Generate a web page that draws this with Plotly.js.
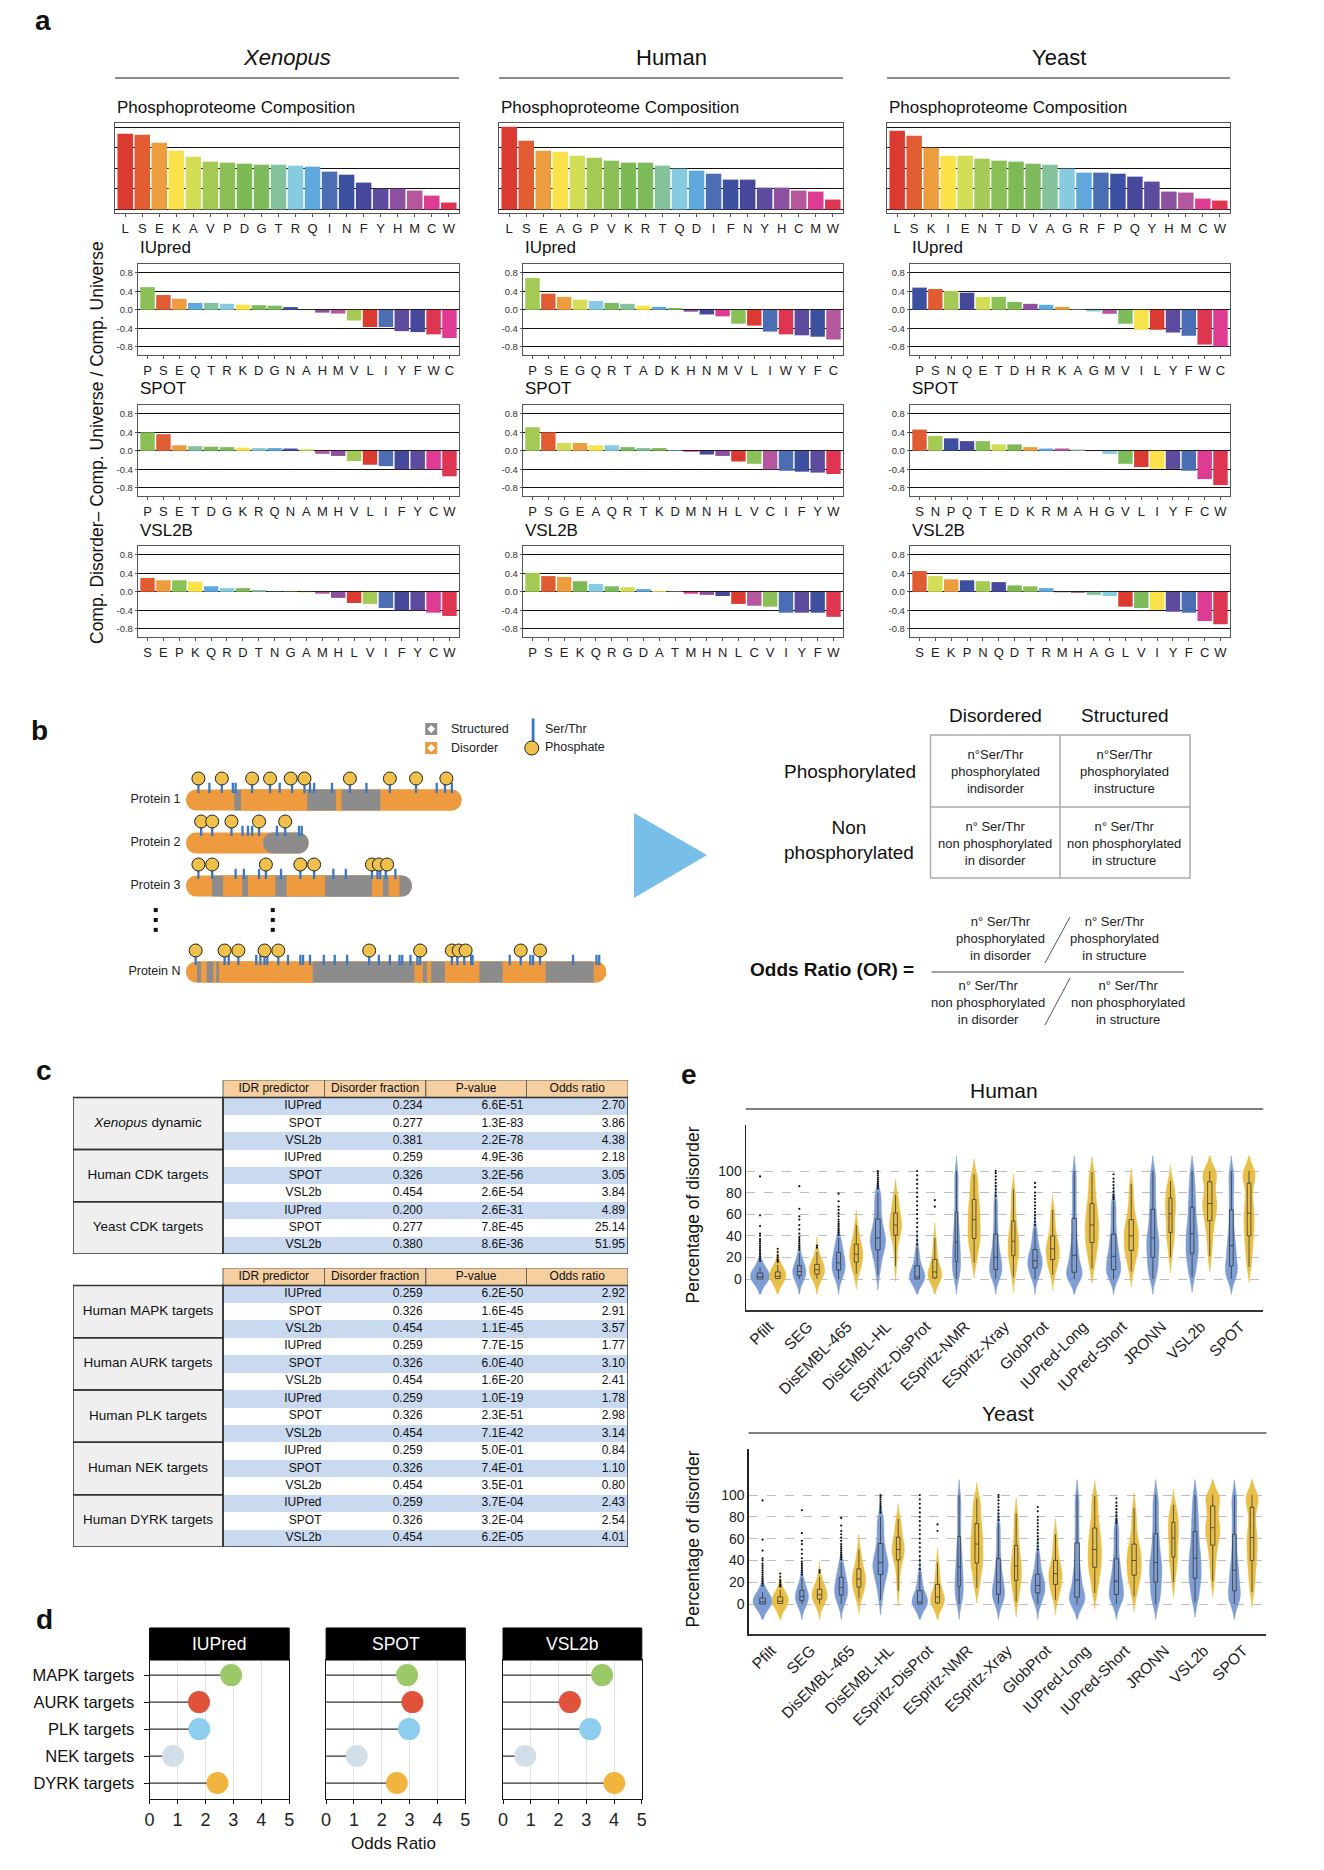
<!DOCTYPE html>
<html>
<head>
<meta charset="utf-8">
<script src="https://cdn.plot.ly/plotly-3.0.1.min.js"></script>
<style>
html,body{margin:0;padding:0;background:#ffffff;}
#chart{width:1324px;height:1870px;}
</style>
</head>
<body>
<div id="chart"></div>
<script>
// ================= DATA =================
// ---- Panel a : composition (values in %) and disorder enrichment ----
const xenCompAA = ['L','S','E','K','A','V','P','D','G','T','R','Q','I','N','F','Y','H','M','C','W'];
const xenCompVal = [9.19,9.07,8.10,7.14,6.41,5.81,5.69,5.56,5.44,5.44,5.32,5.20,4.60,4.23,3.27,2.54,2.54,2.30,1.69,0.85];
const xenIupredAA = ['P','S','E','Q','T','R','K','D','G','N','A','H','M','V','L','I','Y','F','W','C'];
const xenIupredVal = [0.49,0.32,0.24,0.15,0.15,0.13,0.11,0.10,0.09,0.06,-0.01,-0.06,-0.08,-0.23,-0.37,-0.37,-0.46,-0.48,-0.53,-0.61];
const xenSpotAA = ['P','S','E','T','D','G','K','R','Q','N','A','M','H','V','L','I','F','Y','C','W'];
const xenSpotVal = [0.40,0.36,0.12,0.10,0.09,0.08,0.07,0.06,0.06,0.05,0.035,-0.065,-0.11,-0.22,-0.30,-0.33,-0.40,-0.40,-0.40,-0.55];
const xenVslAA = ['S','E','P','K','Q','R','D','T','N','G','A','M','H','L','V','I','F','Y','C','W'];
const xenVslVal = [0.30,0.25,0.25,0.22,0.12,0.08,0.08,0.04,0.015,0.01,-0.01,-0.04,-0.13,-0.24,-0.26,-0.35,-0.40,-0.40,-0.45,-0.52];

const humCompAA = ['L','S','E','A','G','P','V','K','R','T','Q','D','I','F','N','Y','H','C','M','W'];
const humCompVal = [10.04,8.35,7.14,7.02,6.53,6.29,5.93,5.69,5.69,5.32,4.96,4.72,4.35,3.63,3.63,2.66,2.66,2.30,2.18,1.21];
const humIupredAA = ['P','S','E','G','Q','R','T','A','D','K','H','N','M','V','L','I','W','Y','F','C'];
const humIupredVal = [0.69,0.35,0.28,0.22,0.19,0.15,0.13,0.09,0.065,0.04,-0.04,-0.10,-0.14,-0.30,-0.34,-0.47,-0.53,-0.55,-0.58,-0.64];
const humSpotAA = ['P','S','G','E','A','Q','R','T','K','D','M','N','H','L','V','C','I','F','Y','W'];
const humSpotVal = [0.51,0.40,0.17,0.17,0.12,0.12,0.08,0.06,0.06,0.015,-0.02,-0.08,-0.11,-0.23,-0.28,-0.40,-0.43,-0.45,-0.47,-0.50];
const humVslAA = ['P','S','E','K','Q','R','G','D','A','T','M','H','N','L','C','V','I','Y','F','W'];
const humVslVal = [0.41,0.34,0.32,0.23,0.17,0.12,0.10,0.06,0.02,0.01,-0.04,-0.065,-0.09,-0.26,-0.30,-0.32,-0.45,-0.45,-0.45,-0.54];

const yeaCompAA = ['L','S','K','I','E','N','T','D','V','A','G','R','F','P','Q','Y','H','M','C','W'];
const yeaCompVal = [9.56,8.95,7.50,6.53,6.53,6.17,5.93,5.81,5.56,5.44,4.96,4.48,4.48,4.35,3.99,3.39,2.18,2.06,1.33,1.09];
const yeaIupredAA = ['P','S','N','Q','E','T','D','H','R','K','A','G','M','V','I','L','Y','F','W','C'];
const yeaIupredVal = [0.48,0.45,0.41,0.37,0.28,0.28,0.17,0.13,0.11,0.065,0.01,-0.035,-0.085,-0.30,-0.43,-0.43,-0.49,-0.56,-0.75,-0.79];
const yeaSpotAA = ['S','N','P','Q','T','E','D','K','R','M','A','H','G','V','L','I','Y','F','C','W'];
const yeaSpotVal = [0.46,0.32,0.27,0.21,0.21,0.14,0.14,0.08,0.05,0.05,0.03,-0.005,-0.065,-0.28,-0.35,-0.39,-0.39,-0.43,-0.61,-0.74];
const yeaVslAA = ['S','E','K','P','N','Q','D','T','R','M','H','A','G','L','V','I','Y','F','C','W'];
const yeaVslVal = [0.45,0.34,0.27,0.25,0.23,0.21,0.14,0.12,0.08,-0.01,-0.02,-0.065,-0.09,-0.32,-0.35,-0.39,-0.43,-0.45,-0.63,-0.70];

// ---- Panel b : schematic proteins (residue positions) ----
const proteinNames = ['Protein 1','Protein 2','Protein 3','Protein N'];
const protein1Bounds = [0,35,40,88,109,113,141,200];
const protein2Bounds = [0,56,89];
const protein3Bounds = [0,19,27,41,45,65,73,101,135,143,147,155,164];
const proteinNBounds = [0,8,11,15,20,22,24,92,166,172,175,178,188,213,230,261,296,305];
const protein1SerThr = [9,17,26,34,36,48,61,68,77,86,90,93,106,119,131,148,167,182,188,193];
const protein1Phospho = [9,26,48,61,76,86,119,148,167,189];
const protein2SerThr = [11,19,33,41,45,48,53,66,72,82,84];
const protein2Phospho = [11,19,33,53,72];
const protein3SerThr = [9,19,36,42,53,58,69,83,93,107,116,135,139,141,145,152];
const protein3Phospho = [9,19,58,83,93,135,140,146];
const proteinNSerThr = [7,28,31,38,51,54,57,59,67,74,83,85,90,100,108,117,133,140,148,155,157,163,168,170,193,197,202,207,208,235,243,250,252,257,281,298,300];
const proteinNPhospho = [7,28,38,57,67,133,170,193,198,203,243,257];

// ---- Panel c : tables ----
const tableHeader = ['IDR predictor','Disorder fraction','P-value','Odds ratio'];
const idrPredictors = ['IUPred','SPOT','VSL2b'];
const groups1 = ['<i>Xenopus</i> dynamic','Human CDK targets','Yeast CDK targets'];
const fraction1 = [0.234,0.277,0.381,0.259,0.326,0.454,0.200,0.277,0.380];
const pvalue1 = ['6.6E-51','1.3E-83','2.2E-78','4.9E-36','3.2E-56','2.6E-54','2.6E-31','7.8E-45','8.6E-36'];
const odds1 = [2.70,3.86,4.38,2.18,3.05,3.84,4.89,25.14,51.95];
const groups2 = ['Human MAPK targets','Human AURK targets','Human PLK targets','Human NEK targets','Human DYRK targets'];
const fraction2 = [0.259,0.326,0.454,0.259,0.326,0.454,0.259,0.326,0.454,0.259,0.326,0.454,0.259,0.326,0.454];
const pvalue2 = ['6.2E-50','1.6E-45','1.1E-45','7.7E-15','6.0E-40','1.6E-20','1.0E-19','2.3E-51','7.1E-42','5.0E-01','7.4E-01','3.5E-01','3.7E-04','3.2E-04','6.2E-05'];
const odds2 = [2.92,2.91,3.57,1.77,3.10,2.41,1.78,2.98,3.14,0.84,1.10,0.80,2.43,2.54,4.01];

// ---- Panel d ----
const kinases = ['MAPK targets','AURK targets','PLK targets','NEK targets','DYRK targets'];
const predictorsD = ['IUPred','SPOT','VSL2b'];

// ---- Panel e : percentage of disorder (sample values) ----
const methods = ['Pfilt','SEG','DisEMBL-465','DisEMBL-HL','ESpritz-DisProt','ESpritz-NMR','ESpritz-Xray','GlobProt','IUPred-Long','IUPred-Short','JRONN','VSL2b','SPOT'];
const humanBlue = [
 [0,0,0,0,0,0,1,1,1,2,2,3,3,4,5,6,7,9,11,14],
 [0,0,1,2,3,3,4,5,6,7,7,8,9,10,12,13,15,17,20,24],
 [0,2,4,6,8,9,11,12,14,15,17,19,21,23,25,28,31,35,38],
 [4,12,18,22,26,28,31,34,36,37,39,42,45,49,53,58,64,70,76,80],
 [0,0,0,0,0,0,1,1,2,2,3,5,7,10,13,16,20,25,29],
 [0,3,7,10,13,16,19,22,25,29,32,36,40,45,49,55,62,70,78,86,93,100],
 [0,2,4,6,8,9,11,14,16,18,20,23,27,31,35,40,46,53,60,68,74],
 [0,3,5,8,10,11,13,15,16,17,19,21,23,25,28,32,37,42,47],
 [0,0,1,2,4,6,7,9,12,15,19,22,26,30,35,43,50,58,66,75,84,92,100],
 [0,2,4,6,8,9,11,14,17,19,21,24,28,32,35,40,46,53,60,67,72],
 [0,5,10,14,18,22,26,30,33,36,40,44,49,55,61,68,76,84,92,100],
 [2,8,14,19,23,26,30,34,38,42,46,50,56,62,68,75,82,90,100],
 [0,2,5,8,11,13,17,21,25,29,33,38,44,52,60,68,77,86,94,100]
];
const humanBlueOutliers = [
 [17,19,21,23,25,27,29,31,33,35,37,40,42,49,59,95],
 [27,29,31,33,35,37,39,42,46,50,55,58,65,86],
 [41,43,45,47,49,51,53,55,58,61,64,67,72,79],
 [84,86,88,90,92,94,96,98,100],
 [32,36,40,44,48,52,56,60,64,68,72,76,80,84,88,92,96,100],
 [],
 [77,80,83,86,89,92,95,98,100],
 [50,53,56,59,62,65,68,71,74,77,80,85,89],
 [],
 [74,76,78,81,84,87,90,93,97],
 [],[],[]
];
const humanGold = [
 [0,0,0,0,0,1,1,2,2,2,3,3,4,5,6,7,8,9,11,13],
 [0,1,2,3,4,5,6,7,8,8,9,10,11,12,13,14,16,18,21,25],
 [5,8,10,12,15,17,19,21,22,23,25,27,29,30,33,36,40,45,50],
 [12,22,30,36,40,42,45,47,49,50,52,54,57,59,62,66,70,75,78],
 [0,0,0,0,1,2,3,5,6,7,9,11,14,18,22,27,32,38],
 [15,22,28,33,37,39,43,47,51,55,58,62,66,70,75,80,86,92,97],
 [2,8,13,18,21,23,26,30,33,35,38,41,45,50,55,61,68,76,83],
 [4,9,12,15,18,20,23,25,27,29,31,33,36,40,45,51,58,64],
 [10,18,24,29,33,36,40,44,47,50,54,58,62,66,71,77,84,92,99],
 [7,14,19,23,26,28,31,35,38,40,43,46,49,52,56,62,69,78,88],
 [20,28,34,39,43,45,50,55,59,62,65,68,72,75,78,82,86,91],
 [21,32,40,47,53,57,61,65,68,70,73,77,82,87,91,95,98,100,100],
 [11,20,27,33,39,43,48,53,57,61,66,71,78,85,90,95,98,100,100]
];
const humanGoldOutliers = [
 [16,17,18,20,22,25,28],
 [29,31],
 [],[],
 [67,73],
 [],[],[],[],[],[],[],[]
];
// The yeast panel shows the same distributions as the human panel
const yeastBlue = humanBlue;
const yeastBlueOutliers = humanBlueOutliers;
const yeastGold = humanGold;
const yeastGoldOutliers = humanGoldOutliers;

// ================= STYLE / LAYOUT =================
const W = 1324, H = 1870;
const REG = "'Liberation Sans', Arial, sans-serif";
const px = x => x / W;
const py = y => 1 - y / H;
const aaPalette = ['#DA3A2F','#E05D34','#ED9C3E','#F9E24A','#D3DD55','#A5C955','#8AC055','#7DBA55','#7DBB5C','#84C29B',
                   '#86CBE0','#5EA8DD','#4A6DB3','#3D4F9F','#46499B','#5D4B9D','#8D4F9F','#B5579F','#DE3C93','#DE3550'];

const traces = [];
const layout = {
  width: W, height: H,
  margin: {l:0, r:0, t:0, b:0, pad:0},
  paper_bgcolor: '#ffffff', plot_bgcolor: 'rgba(0,0,0,0)',
  showlegend: false, barmode: 'overlay', bargap: 0.09, violinmode: 'overlay',
  font: {family: REG, color: '#111', size: 12},
  annotations: [], shapes: []
};
let axCount = 0;
function addAxes(xd, yd, xo, yo) {
  axCount++;
  const n = axCount === 1 ? '' : String(axCount);
  layout['xaxis' + n] = Object.assign({domain: [px(xd[0]), px(xd[1])], anchor: 'y' + n, fixedrange: true}, xo);
  layout['yaxis' + n] = Object.assign({domain: [py(yd[1]), py(yd[0])], anchor: 'x' + n, fixedrange: true}, yo);
  return {x: 'x' + n, y: 'y' + n};
}
function ann(x, y, text, font, opt) {
  layout.annotations.push(Object.assign({xref:'paper', yref:'paper', x: px(x), y: py(y), text: text, showarrow: false,
    xanchor: 'center', yanchor: 'middle', font: font}, opt || {}));
}
function lineP(x0, y0, x1, y1, color, width) {
  layout.shapes.push({type:'line', xref:'paper', yref:'paper', x0:px(x0), y0:py(y0), x1:px(x1), y1:py(y1), line:{color:color, width:width}});
}
function rectP(x0, y0, x1, y1, opt) {
  layout.shapes.push(Object.assign({type:'rect', xref:'paper', yref:'paper', x0:px(x0), y0:py(y0), x1:px(x1), y1:py(y1)}, opt));
}

// panel letters
const letterFont = {family: REG, size: 28, color: '#111'};
ann(43, 20, '<b>a</b>', letterFont);
ann(39, 731, '<b>b</b>', letterFont);
ann(44, 1070, '<b>c</b>', letterFont);
ann(44, 1619, '<b>d</b>', letterFont);
ann(689, 1074, '<b>e</b>', letterFont);

// ================= PANEL A =================
const speciesA = [
  {title:'<i>Xenopus</i>', compX:[115,459], disX:[138,459], compAA:xenCompAA, compVal:xenCompVal,
   rows:[[xenIupredAA,xenIupredVal],[xenSpotAA,xenSpotVal],[xenVslAA,xenVslVal]]},
  {title:'Human', compX:[499,843], disX:[523,843], compAA:humCompAA, compVal:humCompVal,
   rows:[[humIupredAA,humIupredVal],[humSpotAA,humSpotVal],[humVslAA,humVslVal]]},
  {title:'Yeast', compX:[887,1230], disX:[910,1230], compAA:yeaCompAA, compVal:yeaCompVal,
   rows:[[yeaIupredAA,yeaIupredVal],[yeaSpotAA,yeaSpotVal],[yeaVslAA,yeaVslVal]]}
];
const rowTitles = ['IUpred','SPOT','VSL2B'];
const rowY = [[264,355],[405,496],[546,637]];
const rowTitleY = [248,388,530];
const frameA = {showline:true, mirror:true, linecolor:'#555', linewidth:1.2, zeroline:false};
function xCatA(cats) {
  return Object.assign({type:'category', range:[-0.6,19.6], showgrid:false, ticks:'outside', ticklen:3, tickcolor:'#555',
    tickmode:'array', tickvals: cats, ticktext: cats, tickfont:{family:REG, size:13, color:'#222'}}, frameA);
}

speciesA.forEach(sp => {
  const colorOf = aa => aaPalette[sp.compAA.indexOf(aa)];
  ann((sp.compX[0] + sp.compX[1]) / 2, 57, sp.title, {family:REG, size:22, color:'#111'});
  lineP(sp.compX[0], 78, sp.compX[1], 78, '#666', 1.5);
  ann(sp.compX[0], 108, 'Phosphoproteome Composition', {family:REG, size:17, color:'#111'}, {xanchor:'left'});
  const ax = addAxes(sp.compX, [123,213], xCatA(sp.compAA),
    Object.assign({range:[-0.42,10.5], tickvals:[0,2.5,5,7.5,10], showticklabels:false, showgrid:true,
      gridcolor:'#111', gridwidth:1, ticks:''}, frameA));
  traces.push({type:'bar', x: sp.compAA, y: sp.compVal, xaxis: ax.x, yaxis: ax.y,
    marker:{color: sp.compAA.map(colorOf), line:{width:0}}, hoverinfo:'skip'});
  sp.rows.forEach((row, k) => {
    ann(sp.disX[0], rowTitleY[k], rowTitles[k], {family:REG, size:17, color:'#111'}, {xanchor:'left'});
    const a2 = addAxes(sp.disX, rowY[k], xCatA(row[0]),
      Object.assign({range:[-0.975,0.99], tickvals:[-0.8,-0.4,0,0.4,0.8], ticktext:['-0.8','-0.4','0.0','0.4','0.8'],
        showgrid:true, gridcolor:'#111', gridwidth:1, ticks:'outside', ticklen:2, tickcolor:'#555',
        tickfont:{family:REG, size:9.5, color:'#333'}}, frameA));
    traces.push({type:'bar', x: row[0], y: row[1], xaxis: a2.x, yaxis: a2.y,
      marker:{color: row[0].map(colorOf), line:{width:0}}, hoverinfo:'skip'});
  });
});
ann(97, 443, 'Comp. Disorder\u2013 Comp. Universe / Comp. Universe', {family:REG, size:17.5, color:'#111'}, {textangle:-90});

// ================= PANEL B =================
const proteinRowIndex = [0,1,2,4];
const proteins = [
  {b:protein1Bounds, s:protein1SerThr, p:protein1Phospho},
  {b:protein2Bounds, s:protein2SerThr, p:protein2Phospho},
  {b:protein3Bounds, s:protein3SerThr, p:protein3Phospho},
  {b:proteinNBounds, s:proteinNSerThr, p:proteinNPhospho}
];
const DIS = '#EE9A3F', STR = '#8C8C8C', SERTHR = '#3C77C2', PHOS = '#EFC04A';
// 1 residue = 1.3774 px ; residue 0 at x = 186 px
const axB = addAxes([144.7,613], [714,1015], {range:[-30,310], visible:false},
  {range:[5,-2], visible:false});
const segColor = i => (i % 2 === 0 ? DIS : STR);
const layA = {base:[], x:[], y:[], c:[]}, layB = {base:[], x:[], y:[], c:[]}, layC = {base:[], x:[], y:[], c:[]};
const stX = [], stY = [], phX = [], phY = [];
proteins.forEach((pr, j) => {
  const r = proteinRowIndex[j], b = pr.b, n = b.length - 1, L = b[n];
  layA.base.push(L); layA.x.push(-L); layA.y.push(r); layA.c.push(segColor(0));
  layB.base.push(b[1]); layB.x.push(L - b[1]); layB.y.push(r); layB.c.push(segColor(n - 1));
  for (let i = 1; i < n - 1; i++) { layC.base.push(b[i]); layC.x.push(b[i+1] - b[i]); layC.y.push(r); layC.c.push(segColor(i)); }
  pr.s.forEach(s => { stX.push(s, s, null); stY.push(r - 0.40, r - 0.16, null); });
  pr.p.forEach(p => { phX.push(p); phY.push(r - 0.50); });
});
[[layA,10],[layB,10],[layC,0]].forEach(([Ly, cr]) => traces.push({type:'bar', orientation:'h', base: Ly.base, x: Ly.x, y: Ly.y,
  width:0.49, marker:{color: Ly.c, cornerradius: cr, line:{width:0}}, xaxis: axB.x, yaxis: axB.y, hoverinfo:'skip'}));
traces.push({type:'scatter', mode:'lines', x: stX, y: stY, line:{color:SERTHR, width:2.3}, xaxis: axB.x, yaxis: axB.y, hoverinfo:'skip', cliponaxis:false});
traces.push({type:'scatter', mode:'markers', x: phX, y: phY, marker:{size:13, color:PHOS, line:{color:'#222', width:1}}, xaxis: axB.x, yaxis: axB.y, hoverinfo:'skip', cliponaxis:false});
// protein labels
traces.push({type:'scatter', mode:'text', x: proteinNames.map(() => -4), y: proteinRowIndex, text: proteinNames, textposition:'middle left',
  textfont:{family:REG, size:12.5, color:'#222'}, xaxis: axB.x, yaxis: axB.y, hoverinfo:'skip', cliponaxis:false});
// vertical ellipsis dots
traces.push({type:'scatter', mode:'markers', x:[-22,-22,-22,63,63,63], y:[2.56,2.79,3.02,2.56,2.79,3.02],
  marker:{symbol:'square', size:4, color:'#111'}, xaxis: axB.x, yaxis: axB.y, hoverinfo:'skip', cliponaxis:false});
// legend symbols
traces.push({type:'scatter', mode:'markers', x:[178,178], y:[-1.651,-1.209], marker:{symbol:'square', size:12, color:[STR,DIS]}, xaxis: axB.x, yaxis: axB.y, hoverinfo:'skip', cliponaxis:false});
traces.push({type:'scatter', mode:'markers', x:[178,178], y:[-1.651,-1.209], marker:{symbol:'diamond', size:6, color:'#fff'}, xaxis: axB.x, yaxis: axB.y, hoverinfo:'skip', cliponaxis:false});
traces.push({type:'scatter', mode:'markers', x:[252], y:[-1.62], marker:{symbol:'line-ns', size:17, line:{color:SERTHR, width:2.8}}, xaxis: axB.x, yaxis: axB.y, hoverinfo:'skip', cliponaxis:false});
traces.push({type:'scatter', mode:'markers', x:[251], y:[-1.209], marker:{size:14, color:PHOS, line:{color:'#222', width:1}}, xaxis: axB.x, yaxis: axB.y, hoverinfo:'skip', cliponaxis:false});
const legF = {family:REG, size:12.5, color:'#222'};
ann(449, 729, 'Structured', legF, {xanchor:'left'});
ann(449, 748, 'Disorder', legF, {xanchor:'left'});
ann(543, 729, 'Ser/Thr', legF, {xanchor:'left'});
ann(543, 747, 'Phosphate', legF, {xanchor:'left'});
// arrow
layout.shapes.push({type:'path', xref:'paper', yref:'paper',
  path:'M ' + px(634) + ' ' + py(813) + ' L ' + px(707) + ' ' + py(855) + ' L ' + px(634) + ' ' + py(898) + ' Z',
  fillcolor:'#77BEE8', line:{width:0}});
// contingency table
const bigF = {family:REG, size:19, color:'#111'};
const cellF = {family:REG, size:13, color:'#222'};
ann(995, 715, 'Disordered', bigF);
ann(1125, 715, 'Structured', bigF);
ann(850, 771, 'Phosphorylated', bigF);
ann(849, 840, 'Non<br>phosphorylated', bigF);
rectP(930.5, 735, 1190, 878, {line:{color:'#aaa', width:1.5}, fillcolor:'rgba(0,0,0,0)'});
lineP(930.5, 807, 1190, 807, '#aaa', 1.5);
lineP(1060, 735, 1060, 878, '#aaa', 1.5);
ann(995, 771, 'n°Ser/Thr<br>phosphorylated<br>indisorder', cellF);
ann(1124, 771, 'n°Ser/Thr<br>phosphorylated<br>instructure', cellF);
ann(995, 843, 'n° Ser/Thr<br>non phosphorylated<br>in disorder', cellF);
ann(1124, 843, 'n° Ser/Thr<br>non phosphorylated<br>in structure', cellF);
ann(832, 970, '<b>Odds Ratio (OR) =</b>', {family:REG, size:19, color:'#111'});
lineP(931.6, 972, 1184, 972, '#444', 1);
lineP(1070, 917, 1045, 963, '#555', 1);
lineP(1070, 978, 1045, 1025, '#555', 1);
ann(1000.5, 938, 'n° Ser/Thr<br>phosphorylated<br>in disorder', cellF);
ann(1114, 938, 'n° Ser/Thr<br>phosphorylated<br>in structure', cellF);
ann(988, 1002, 'n° Ser/Thr<br>non phosphorylated<br>in disorder', cellF);
ann(1127.6, 1002, 'n° Ser/Thr<br>non phosphorylated<br>in structure', cellF);

// ================= PANEL C =================
const colEdges = [73,223,324.5,425.7,526.5,628];
const tableScale = [[0,'#ffffff'],[0.17,'#ffffff'],[0.17,'#C9DAF0'],[0.5,'#C9DAF0'],[0.5,'#F5CFA0'],[0.83,'#F5CFA0'],[0.83,'#EFEFEF'],[1,'#EFEFEF']];
function buildTable(yd, groups, fracs, pvals, odds) {
  const nR = fracs.length;
  const ax = addAxes([colEdges[0], colEdges[5]], yd, {range:[colEdges[0], colEdges[5]], visible:false}, {range:[nR + 0.5, -0.5], visible:false});
  const yE = []; for (let r = 0; r <= nR + 1; r++) yE.push(r - 0.5);
  const z = [[0,2,2,2,2]];
  for (let r = 1; r <= nR; r++) { const b = r % 2; z.push([3,b,b,b,b]); }
  traces.push({type:'heatmap', x: colEdges, y: yE, z: z, zmin:0, zmax:3, colorscale: tableScale, showscale:false,
    hoverinfo:'skip', xaxis: ax.x, yaxis: ax.y});
  const rows = []; for (let r = 1; r <= nR; r++) rows.push(r);
  const tf = {family:REG, size:12, color:'#111'};
  const common = {type:'scatter', mode:'text', xaxis: ax.x, yaxis: ax.y, hoverinfo:'skip', cliponaxis:false, textfont: tf};
  traces.push(Object.assign({}, common, {x: tableHeader.map((h, i) => (colEdges[i+1] + colEdges[i+2]) / 2), y: tableHeader.map(() => 0), text: tableHeader, textposition:'middle center'}));
  traces.push(Object.assign({}, common, {x: rows.map(() => colEdges[2] - 3), y: rows, text: rows.map(r => idrPredictors[(r - 1) % 3]), textposition:'middle left'}));
  traces.push(Object.assign({}, common, {x: rows.map(() => colEdges[3] - 3), y: rows, text: fracs.map(v => v.toFixed(3)), textposition:'middle left'}));
  traces.push(Object.assign({}, common, {x: rows.map(() => colEdges[4] - 3), y: rows, text: pvals, textposition:'middle left'}));
  traces.push(Object.assign({}, common, {x: rows.map(() => colEdges[5] - 3), y: rows, text: odds.map(v => v.toFixed(2)), textposition:'middle left'}));
  traces.push(Object.assign({}, common, {x: groups.map(() => (colEdges[0] + colEdges[1]) / 2), y: groups.map((g, i) => 2 + 3 * i), text: groups, textposition:'middle center', textfont:{family:REG, size:13.5, color:'#111'}}));
  const rect = (x0, y0, x1, y1, line) => layout.shapes.push({type:'rect', xref: ax.x, yref: ax.y, x0:x0, y0:y0, x1:x1, y1:y1, line: line, fillcolor:'rgba(0,0,0,0)'});
  for (let i = 1; i <= 4; i++) rect(colEdges[i], -0.5, colEdges[i+1], 0.5, {color:'#666', width:1});
  groups.forEach((g, i) => rect(colEdges[0], 0.5 + 3 * i, colEdges[1], 3.5 + 3 * i, {color:'#333', width:1.5}));
  rect(colEdges[1], 0.5, colEdges[5], nR + 0.5, {color:'#333', width:1.5});
}
buildTable([1080,1254], groups1, fraction1, pvalue1, odds1);
buildTable([1268,1547], groups2, fraction2, pvalue2, odds2);

// ================= PANEL D =================
const kinaseColors = ['#9BC96A','#E0533A','#8DCDED','#D3DFE8','#F1B43F'];
const dX = [[149.6,289.2],[326.1,465.3],[503,641.8]];
predictorsD.forEach((p, j) => {
  const ax = addAxes(dX[j], [1660,1799],
    {range:[0,5], tickvals:[0,1,2,3,4,5], showgrid:true, gridcolor:'#e2e2e2', gridwidth:1, showline:true, mirror:true,
     linecolor:'#111', linewidth:1, ticks:'outside', ticklen:4, tickcolor:'#111', tickfont:{family:REG, size:18, color:'#222'}, zeroline:false},
    {type:'category', categoryorder:'array', categoryarray: kinases, range:[4.59,-0.56], showgrid:false, showline:true, mirror:true,
     linecolor:'#111', linewidth:1, ticks: j === 0 ? 'outside' : '', ticklen:5, tickcolor:'#111', showticklabels: j === 0,
     ticklabelstandoff: 6, tickfont:{family:REG, size:16.5, color:'#111'}, zeroline:false});
  const lx = [], ly = [], mx = [];
  kinases.forEach((k, i) => { const v = odds2[i * 3 + j]; lx.push(0, v, null); ly.push(k, k, null); mx.push(v); });
  traces.push({type:'scatter', mode:'lines', x: lx, y: ly, line:{color:'#333', width:1.3}, xaxis: ax.x, yaxis: ax.y, hoverinfo:'skip'});
  traces.push({type:'scatter', mode:'markers', x: mx, y: kinases, marker:{size:22, color: kinaseColors}, xaxis: ax.x, yaxis: ax.y, hoverinfo:'skip', cliponaxis:false});
  rectP(dX[j][0], 1628, dX[j][1], 1660, {fillcolor:'#000', line:{color:'#000', width:1}});
  ann((dX[j][0] + dX[j][1]) / 2, 1644, p, {family:REG, size:17.5, color:'#fff'});
});
ann(393, 1843, 'Odds Ratio', {family:REG, size:17, color:'#111'});

// ================= PANEL E =================
const BLUE = '#6F93CF', GOLD = '#E6BA36';
const violinWidthBluePx = [19.1,13.2,13.2,15.4,15.6,8.3,12.3,14.4,15.6,14.4,12.3,12.3,12.0];
const violinWidthGoldPx = [16.4,15.2,13.2,12.3,13.9,12.3,10.7,13.2,13.6,14.4,10.2,14.4,12.3];
const eConf = [
  {title:'Human', x:[745.7,1263.2], y:[1125,1310], xr:[-0.59,12.585], yr:[-28.7,142.6], titleY:1090, lineY:1109, blue:humanBlue, gold:humanGold, blueOut:humanBlueOutliers, goldOut:humanGoldOutliers},
  {title:'Yeast', x:[748.6,1266.4], y:[1449,1634], xr:[-0.58,12.59], yr:[-27.5,142.2], titleY:1413, lineY:1433, blue:yeastBlue, gold:yeastGold, blueOut:yeastBlueOutliers, goldOut:yeastGoldOutliers}
];
eConf.forEach(ec => {
  const pxu = (ec.x[1] - ec.x[0]) / (ec.xr[1] - ec.xr[0]);
  const ax = addAxes(ec.x, ec.y,
    {type:'linear', range: ec.xr, tickvals: methods.map((m, i) => i), ticktext: methods, tickangle:-45, ticks:'', showgrid:false,
     zeroline:false, showline:true, linecolor:'#333', linewidth:1.5, tickfont:{family:REG, size:15.5, color:'#222'}},
    {range: ec.yr, tickvals:[0,20,40,60,80,100], showgrid:true, gridcolor:'#bdbdbd', griddash:'dash', gridwidth:1, zeroline:false,
     showline:true, linecolor:'#222', linewidth:1.2, ticks:'', tickfont:{family:REG, size:14, color:'#222'}});
  ann((ec.x[0] + ec.x[1]) / 2, ec.titleY, ec.title, {family:REG, size:21, color:'#111'});
  lineP(ec.x[0], ec.lineY, ec.x[1], ec.lineY, '#555', 1.5);
  ann(692, (ec.y[0] + ec.y[1]) / 2 - 2, 'Percentage of disorder', {family:REG, size:17.5, color:'#111'}, {textangle:-90});
  const outX = [], outY = [];
  methods.forEach((m, i) => {
    [[ec.blue[i], -0.225, violinWidthBluePx[i], BLUE, ec.blueOut[i]], [ec.gold[i], 0.225, violinWidthGoldPx[i], GOLD, ec.goldOut[i]]].forEach(v => {
      const pos = i + v[1];
      traces.push({type:'violin', orientation:'v', x0: pos, y: v[0], xaxis: ax.x, yaxis: ax.y, width: v[2] / pxu,
        bandwidth: 7, spanmode:'soft', scalemode:'width', fillcolor: v[3], opacity: 0.9, line:{color: v[3], width:0.5},
        points:false, box:{visible:true, width:0.3, fillcolor:'rgba(0,0,0,0)', line:{color:'#222', width:0.8}},
        meanline:{visible:false}, hoverinfo:'skip'});
      v[4].forEach(o => { outX.push(pos); outY.push(o); });
    });
  });
  traces.push({type:'scatter', mode:'markers', x: outX, y: outY, marker:{size:2.2, color:'#111'}, xaxis: ax.x, yaxis: ax.y, hoverinfo:'skip'});
});

Plotly.newPlot('chart', traces, layout, {displayModeBar:false, staticPlot:true});
</script>
</body>
</html>
